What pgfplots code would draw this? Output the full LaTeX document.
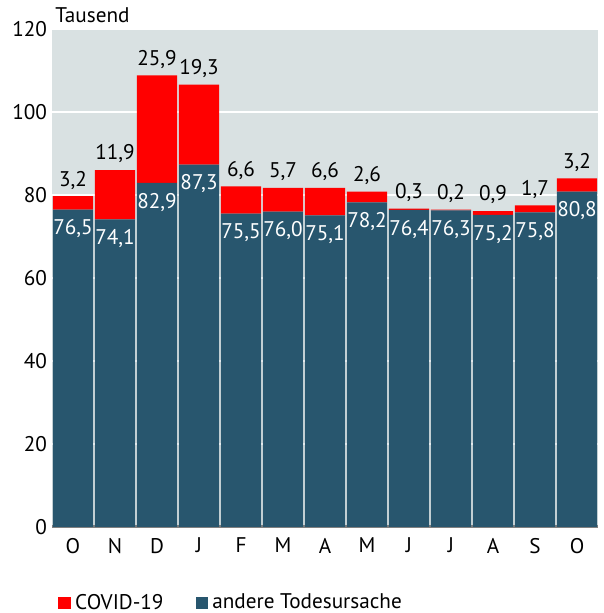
\documentclass[border=0pt]{standalone}
\usepackage{pgfplots}
\usepackage{pgfplotstable}
\pgfplotsset{compat=1.18}
\usepackage{fontspec}
\setmainfont{PT Sans}
\definecolor{bgc}{HTML}{D9E1E2}
\definecolor{darkb}{HTML}{28566E}
\definecolor{cov}{HTML}{FF0000}
\pgfplotstableread{
x o c
0 76.5 3.2
1 74.1 11.9
2 82.9 25.9
3 87.3 19.3
4 75.5 6.6
5 76.0 5.7
6 75.1 6.6
7 78.2 2.6
8 76.4 0.3
9 76.3 0.2
10 75.2 0.9
11 75.8 1.7
12 80.8 3.2
}\deaths
\begin{document}
\begin{tikzpicture}[font=\fontsize{10.6}{12}\selectfont]
\useasboundingbox (-26pt,-43pt) rectangle (275.5pt,263.5pt);
\begin{axis}[
  scale only axis, width=273pt, height=249pt,
  xmin=-0.5, xmax=12.5, ymin=0, ymax=120,
  ybar stacked, bar width=20.2pt,
  axis background/.style={fill=bgc},
  axis line style={draw=none},
  ymajorgrids, grid style={white, line width=1pt},
  ytick={0,20,...,120}, tick style={draw=none},
  xtick={0,...,12},
  xticklabels={O,N,D,J,F,M,A,M,J,J,A,S,O},
  /pgf/number format/assume math mode=true,
  yticklabel style={xshift=1pt},
  xticklabel style={yshift=-2pt},
  reverse legend,
  legend style={at={(0,-38pt)}, anchor=west, draw=none, fill=none, legend columns=2,
    /tikz/every even column/.append style={column sep=14pt}, font=\fontsize{10.6}{12}\selectfont},
  legend image code/.code={\fill[#1] (0pt,-3.2pt) rectangle (6.4pt,3.2pt);},
  clip=false,
]
\addplot[fill=darkb, draw=none] table[x=x,y=o] {\deaths};
\addplot[fill=cov, draw=none] table[x=x,y=c] {\deaths};
\legend{andere Todesursache, COVID-19}
\draw[gray, line width=1.5pt] (rel axis cs:0,0) -- (rel axis cs:1,0);
\node[anchor=south west, inner sep=0pt] at ([xshift=1.5pt,yshift=3pt]rel axis cs:0,1) {Tausend};
\end{axis}
\begin{axis}[
  scale only axis, width=273pt, height=249pt,
  xmin=-0.5, xmax=12.5, ymin=0, ymax=120,
  hide axis, clip=false,
  point meta=explicit,
  /pgf/number format/assume math mode=true,
  nodes near coords={\pgfmathprintnumber[use comma,fixed,fixed zerofill,precision=1,assume math mode=true]{\pgfplotspointmeta}},
]
\addplot[draw=none, mark=none, nodes near coords style={white, anchor=north, yshift=-1.5pt}]
  table[x=x,y=o,meta=o] {\deaths};
\addplot[draw=none, mark=none, nodes near coords style={black, anchor=south, yshift=0pt}]
  table[x=x,y expr=\thisrow{o}+\thisrow{c},meta=c] {\deaths};
\end{axis}
\end{tikzpicture}
\end{document}
